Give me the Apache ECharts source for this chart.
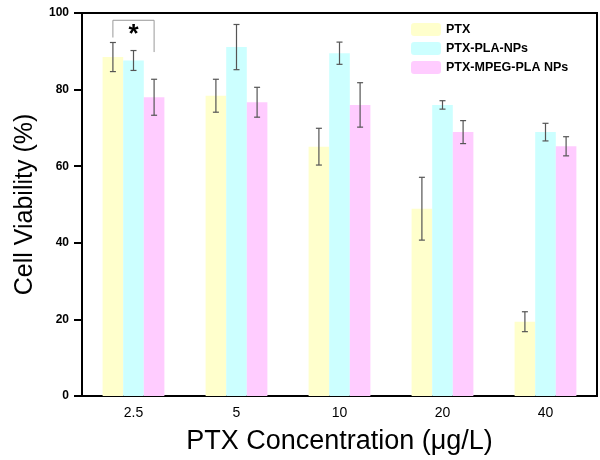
<!DOCTYPE html>
<html>
<head>
<meta charset="utf-8">
<script src="https://cdn.jsdelivr.net/npm/echarts@6/dist/echarts.min.js"></script>
<style>html,body{margin:0;padding:0;background:#fff;}#c{width:600px;height:460px;}</style>
</head>
<body>
<div id="c"></div>
<script>
var categories = ['2.5', '5', '10', '20', '40'];
var seriesNames = ['PTX', 'PTX-PLA-NPs', 'PTX-MPEG-PLA NPs'];
var ptx = [88.5, 78.4, 65.1, 48.9, 19.4];
var ptxErr = [3.8, 4.3, 4.8, 8.2, 2.6];
var pla = [87.6, 91.1, 89.5, 76.0, 68.9];
var plaErr = [2.6, 5.9, 2.9, 1.1, 2.3];
var mpeg = [78.0, 76.7, 76.0, 68.9, 65.2];
var mpegErr = [4.7, 3.9, 5.8, 3.0, 2.5];
var colors = ['#FFFFCC', '#CCFFFF', '#FFCCFF'];
// significance bracket at category 0: [top, left leg end, right leg end]
var bracket = [98.1, 93.6, 89.8];

var values = [ptx, pla, mpeg];
var errs = [ptxErr, plaErr, mpegErr];
var BW = 0.2; // bar width as fraction of band

var chart = echarts.init(document.getElementById('c'), null, {renderer: 'canvas'});
var series = [];
for (var s = 0; s < 3; s++) {
  series.push({
    name: seriesNames[s], type: 'bar', data: values[s], barWidth: '20%', barGap: '0%',
    itemStyle: {color: colors[s]}, z: 2
  });
}
for (var s2 = 0; s2 < 3; s2++) {
  (function (s) {
    var data = values[s].map(function (v, i) { return [i, v - errs[s][i], v + errs[s][i]]; });
    series.push({
      type: 'custom', z: 5, silent: true,
      data: data,
      renderItem: function (params, api) {
        var band = api.size([1, 0])[0];
        var off = (s - 1) * band * BW;
        var lo = api.coord([api.value(0), api.value(1)]);
        var hi = api.coord([api.value(0), api.value(2)]);
        var x = lo[0] + off;
        var cap = 3;
        var st = {stroke: '#555', lineWidth: 1.2};
        return {type: 'group', children: [
          {type: 'line', shape: {x1: x, y1: hi[1], x2: x, y2: lo[1]}, style: st},
          {type: 'line', shape: {x1: x - cap, y1: hi[1], x2: x + cap, y2: hi[1]}, style: st},
          {type: 'line', shape: {x1: x - cap, y1: lo[1], x2: x + cap, y2: lo[1]}, style: st}
        ]};
      }
    });
  })(s2);
}
series.push({
  type: 'custom', z: 6, silent: true,
  data: [[0].concat(bracket)],
  renderItem: function (params, api) {
    var band = api.size([1, 0])[0];
    var c = api.coord([api.value(0), api.value(1)]);
    var l = api.coord([api.value(0), api.value(2)]);
    var r = api.coord([api.value(0), api.value(3)]);
    var xl = c[0] - band * BW, xr = c[0] + band * BW;
    var st = {stroke: '#999', lineWidth: 1, fill: null};
    return {type: 'group', children: [
      {type: 'polyline', shape: {points: [[xl, l[1]], [xl, c[1]], [xr, c[1]], [xr, r[1]]]}, style: st},
      {type: 'text', style: {text: '*', x: c[0], y: c[1] + 2, align: 'center', verticalAlign: 'top',
        font: 'bold 26px Arial, "Liberation Sans", sans-serif', fill: '#000'}}
    ]};
  }
});

chart.setOption({
  animation: false,
  backgroundColor: '#fff',
  grid: {left: 82, right: 3, top: 13, bottom: 63, show: true, borderColor: '#000', borderWidth: 2},
  legend: {
    data: seriesNames, orient: 'vertical', left: 411, top: 23, itemWidth: 30, itemHeight: 13, itemGap: 6,
    textStyle: {fontFamily: 'Arial, "Liberation Sans", sans-serif', fontWeight: 'bold', fontSize: 12.5, color: '#000', padding: [0, 0, 0, 0]},
    padding: 0
  },
  xAxis: {
    type: 'category', data: categories,
    axisLine: {lineStyle: {color: '#000', width: 2}},
    axisTick: {show: false},
    axisLabel: {fontFamily: 'Arial, "Liberation Sans", sans-serif', fontSize: 14, color: '#000', margin: 10},
    name: 'PTX Concentration (μg/L)', nameLocation: 'middle', nameGap: 32,
    nameTextStyle: {fontFamily: 'Arial, "Liberation Sans", sans-serif', fontSize: 27, color: '#000'}
  },
  yAxis: {
    type: 'value', min: 0, max: 100, interval: 20,
    axisLine: {show: true, lineStyle: {color: '#000', width: 2}},
    axisTick: {show: true, length: 8, lineStyle: {color: '#000', width: 2}},
    splitLine: {show: false},
    axisLabel: {fontFamily: 'Arial, "Liberation Sans", sans-serif', fontWeight: 'bold', fontSize: 12, color: '#000', margin: 13},
    name: 'Cell Viability (%)', nameLocation: 'middle', nameGap: 41,
    nameTextStyle: {fontFamily: 'Arial, "Liberation Sans", sans-serif', fontSize: 25, color: '#000'}
  },
  series: series
});
</script>
</body>
</html>
